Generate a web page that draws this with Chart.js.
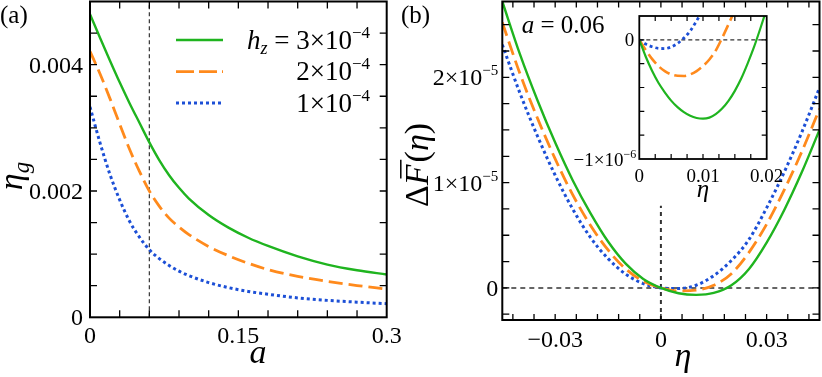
<!DOCTYPE html>
<html>
<head>
<meta charset="utf-8">
<script src="https://cdn.jsdelivr.net/npm/chart.js@4.4.0/dist/chart.umd.min.js"></script>
<style>
  body { margin: 0; background: #fff; }
  #wrap { position: relative; width: 822px; height: 377px; overflow: hidden; background: #fff; }
  canvas { position: absolute; }
</style>
</head>
<body>
<div id="wrap">
  <canvas id="panelA" width="410" height="377" style="left:0px;top:0px"></canvas>
  <canvas id="panelB" width="427" height="377" style="left:395px;top:0px"></canvas>
  <canvas id="inset" width="240" height="210" style="left:560px;top:5px"></canvas>
</div>
<script>
// ---- panel (a): eta_g versus a ----
const aValues = [0, 0.01, 0.02, 0.03, 0.04, 0.05, 0.06, 0.07, 0.08, 0.09, 0.10, 0.12, 0.14, 0.16, 0.18, 0.21, 0.24, 0.27, 0.30];
const etaG_h3 = [0.00480, 0.00443, 0.00407, 0.00372, 0.00339, 0.00308, 0.00277, 0.00249, 0.00225, 0.00205, 0.00188, 0.00162, 0.00142, 0.00126, 0.00113, 0.000965, 0.000835, 0.000745, 0.000677];
const etaG_h2 = [0.00421, 0.00386, 0.00347, 0.00306, 0.00266, 0.00231, 0.00200, 0.00176, 0.00157, 0.00143, 0.00131, 0.00112, 0.000975, 0.000855, 0.000755, 0.000648, 0.000568, 0.000503, 0.000446];
const etaG_h1 = [0.00333, 0.00277, 0.00227, 0.00186, 0.00152, 0.00127, 0.00107, 0.00093, 0.00082, 0.00073, 0.00066, 0.00055, 0.00047, 0.00041, 0.000365, 0.000307, 0.000268, 0.000240, 0.000215];
const aMarker = 0.06;
const aTickVals = [0, 0.15, 0.3];
const aTickLabels = ['0', '0.15', '0.3'];
const etaGTickVals = [0, 0.002, 0.004];
const etaGTickLabels = ['0', '0.002', '0.004'];
const legendMant = ['3', '2', '1'];

// ---- panel (b): Delta F(eta) at a = 0.06, in units of 1e-5 ----
const etaMain = [-0.045, -0.04, -0.035, -0.03, -0.025, -0.02, -0.015, -0.01, -0.005, 0, 0.005, 0.01, 0.015, 0.02, 0.025, 0.03, 0.035, 0.04, 0.045];
const dF_h3 = [2.72, 2.22, 1.78, 1.38, 1.02, 0.71, 0.44, 0.23, 0.085, 0, -0.051, -0.066, -0.048, 0.025, 0.18, 0.43, 0.74, 1.10, 1.50];
const dF_h2 = [2.52, 2.035, 1.61, 1.225, 0.883, 0.595, 0.36, 0.181, 0.063, 0, -0.029, -0.022, 0.025, 0.135, 0.337, 0.605, 0.93, 1.295, 1.70];
const dF_h1 = [2.31, 1.85, 1.44, 1.07, 0.747, 0.48, 0.278, 0.131, 0.041, 0, -0.006, 0.025, 0.117, 0.26, 0.46, 0.76, 1.10, 1.48, 1.90];
const zeroMarkTop = 0.78;
const etaTickVals = [-0.03, 0, 0.03];
const etaTickLabels = ['\u22120.03', '0', '0.03'];
const dFTickVals = [0, 1, 2];
const dFTickMant = ['0', '1', '2'];

// ---- inset: small eta, in units of 1e-6 ----
const etaInset = [0, 0.001, 0.002, 0.003, 0.004, 0.005, 0.006, 0.007, 0.008, 0.009, 0.010, 0.011, 0.012, 0.013, 0.014, 0.015, 0.016, 0.017, 0.018, 0.019, 0.020];
const dFin_h3 = [0, -0.14, -0.26, -0.36, -0.44, -0.51, -0.565, -0.607, -0.638, -0.656, -0.662, -0.653, -0.624, -0.577, -0.512, -0.428, -0.325, -0.20, -0.062, 0.095, 0.26];
const dFin_h2 = [0, -0.085, -0.16, -0.22, -0.262, -0.29, -0.302, -0.303, -0.29, -0.262, -0.22, -0.165, -0.09, 0.015, 0.13, 0.25, 0.38];
const dFin_h1 = [0, -0.035, -0.058, -0.071, -0.073, -0.06, -0.03, 0.015, 0.075, 0.16, 0.25, 0.34];
const insetTickX = [0, 0.01, 0.02];
const insetTickXLabels = ['0', '0.01', '0.02'];

const SERIF = '"Liberation Serif", "Times New Roman", serif';
const GREEN = '#1fb41f', ORANGE = '#ff8a1c', BLUE = '#1c4fd6', REF = '#333';

const pts = (xs, ys) => ys.map((v, i) => ({ x: xs[i], y: v }));

function curve(xs, ys, color, dash, width) {
  return {
    data: pts(xs, ys), borderColor: color, borderWidth: width, borderDash: dash,
    pointRadius: 0, fill: false, cubicInterpolationMode: 'monotone'
  };
}
function refLine(data, width, dash) {
  return { data, borderColor: REF, borderWidth: width, borderDash: dash, pointRadius: 0, fill: false, tension: 0 };
}

// draw a run of text pieces (italic, sub/superscripts) starting from one baseline
function rich(ctx, parts, x, y, align, rot) {
  ctx.save();
  ctx.translate(x, y);
  if (rot) ctx.rotate(rot);
  ctx.textAlign = 'left';
  ctx.textBaseline = 'alphabetic';
  ctx.fillStyle = '#000';
  const fonts = parts.map(p => (p.it ? 'italic ' : '') + p.size + 'px ' + SERIF);
  const widths = parts.map((p, i) => { ctx.font = fonts[i]; return ctx.measureText(p.t).width + (p.gap || 0); });
  const total = widths.reduce((s, w) => s + w, 0);
  let cx = align === 'right' ? -total : align === 'center' ? -total / 2 : 0;
  parts.forEach((p, i) => {
    ctx.font = fonts[i];
    ctx.fillText(p.t, cx, p.dy || 0);
    if (p.bar) {
      ctx.strokeStyle = '#000';
      ctx.lineWidth = 1.5;
      ctx.beginPath();
      ctx.moveTo(cx + p.size * 0.2, -p.size * 0.8);
      ctx.lineTo(cx + widths[i] + p.size * 0.08, -p.size * 0.8);
      ctx.stroke();
    }
    cx += widths[i];
  });
  ctx.restore();
}

function frameTicks(chart, xStep, yStep, xLen, yLen, lw, flw) {
  const { ctx, chartArea: ca, scales: { x, y } } = chart;
  ctx.save();
  ctx.strokeStyle = '#000';
  ctx.lineWidth = lw;
  ctx.setLineDash([]);
  ctx.beginPath();
  for (let k = Math.ceil(x.min / xStep - 1e-6); k <= Math.floor(x.max / xStep + 1e-6); k++) {
    const px = x.getPixelForValue(k * xStep);
    if (px - ca.left < 1.5 || ca.right - px < 1.5) continue;
    ctx.moveTo(px, ca.bottom); ctx.lineTo(px, ca.bottom - xLen);
    ctx.moveTo(px, ca.top); ctx.lineTo(px, ca.top + xLen);
  }
  for (let k = Math.ceil(y.min / yStep - 1e-6); k <= Math.floor(y.max / yStep + 1e-6); k++) {
    const py = y.getPixelForValue(k * yStep);
    if (py - ca.top < 1.5 || ca.bottom - py < 1.5) continue;
    ctx.moveTo(ca.left, py); ctx.lineTo(ca.left + yLen, py);
    ctx.moveTo(ca.right, py); ctx.lineTo(ca.right - yLen, py);
  }
  ctx.stroke();
  ctx.lineWidth = flw;
  ctx.strokeRect(ca.left, ca.top, ca.right - ca.left, ca.bottom - ca.top);
  ctx.restore();
}

function makeChart(id, datasets, xr, yr, padding, plugin) {
  return new Chart(document.getElementById(id), {
    type: 'line',
    data: { datasets },
    options: {
      responsive: false, animation: false, devicePixelRatio: 1, events: [],
      layout: { padding },
      plugins: { legend: { display: false }, tooltip: { enabled: false } },
      scales: {
        x: { type: 'linear', min: xr[0], max: xr[1], display: false },
        y: { type: 'linear', min: yr[0], max: yr[1], display: false }
      }
    },
    plugins: [plugin]
  });
}

// ---------- panel (a) ----------
makeChart('panelA', [
  curve(aValues, etaG_h3, GREEN, [], 2.4),
  curve(aValues, etaG_h2, ORANGE, [14, 6], 2.8),
  curve(aValues, etaG_h1, BLUE, [3, 3], 3),
  refLine([{ x: aMarker, y: 0 }, { x: aMarker, y: 0.005 }], 1.2, [4, 3])
], [0, 0.3], [0, 0.005], { left: 90, top: 1.5, right: 23.3, bottom: 59.7 }, {
  id: 'decorA',
  afterDatasetsDraw(chart) {
    const { ctx, chartArea: ca, scales: { x, y } } = chart;
    frameTicks(chart, 0.03, 0.0005, 7, 7, 1.3, 2);
    etaGTickVals.forEach((v, i) => rich(ctx, [{ t: etaGTickLabels[i], size: 24 }], ca.left - 7, y.getPixelForValue(v) + 8, 'right'));
    aTickVals.forEach((v, i) => rich(ctx, [{ t: aTickLabels[i], size: 24 }], x.getPixelForValue(v), ca.bottom + 26, 'center'));
    rich(ctx, [{ t: 'a', it: 1, size: 34 }], 258, 363, 'center');
    rich(ctx, [{ t: '\u03b7', it: 1, size: 34 }, { t: 'g', it: 1, size: 23, dy: 7 }], 22, 176, 'center', -Math.PI / 2);
    rich(ctx, [{ t: '(a)', size: 25 }], 0, 23, 'left');
    // legend
    const rows = [[GREEN, [], 2.4, 40], [ORANGE, [18, 5], 2.8, 71.7], [BLUE, [3, 3], 3, 103]];
    rows.forEach((r, i) => {
      ctx.save();
      ctx.strokeStyle = r[0]; ctx.lineWidth = r[2]; ctx.setLineDash(r[1]);
      ctx.beginPath(); ctx.moveTo(176, r[3]); ctx.lineTo(223, r[3]); ctx.stroke();
      ctx.restore();
      const parts = i === 0
        ? [{ t: 'h', it: 1, size: 27 }, { t: 'z', it: 1, size: 18, dy: 5 }, { t: ' = ' + legendMant[i] + '\u00d710', size: 27 }, { t: '\u22124', size: 17, dy: -11 }]
        : [{ t: legendMant[i] + '\u00d710', size: 27 }, { t: '\u22124', size: 17, dy: -11 }];
      rich(ctx, parts, 370, r[3] + 8.5, 'right');
    });
  }
});

// ---------- panel (b) ----------
makeChart('panelB', [
  curve(etaMain, dF_h3, GREEN, [], 2.4),
  curve(etaMain, dF_h2, ORANGE, [14, 6], 2.8),
  curve(etaMain, dF_h1, BLUE, [3, 3], 3),
  refLine([{ x: -0.045, y: 0 }, { x: 0.045, y: 0 }], 1.5, [5, 4]),
  refLine([{ x: 0, y: -0.305 }, { x: 0, y: zeroMarkTop }], 2, [4, 4])
], [-0.045, 0.045], [-0.305, 2.72], { left: 107.3, top: 1.5, right: 2.5, bottom: 57 }, {
  id: 'decorB',
  afterDatasetsDraw(chart) {
    const { ctx, chartArea: ca, scales: { x, y } } = chart;
    frameTicks(chart, 0.006, 0.25, 6, 7, 1.3, 2);
    dFTickVals.forEach((v, i) => {
      const parts = v === 0 ? [{ t: '0', size: 24 }] : [{ t: dFTickMant[i] + '\u00d710', size: 24 }, { t: '\u22125', size: 15, dy: -10 }];
      rich(ctx, parts, ca.left - 4, y.getPixelForValue(v) + 8, 'right');
    });
    etaTickVals.forEach((v, i) => rich(ctx, [{ t: etaTickLabels[i], size: 24 }], x.getPixelForValue(v), ca.bottom + 26.5, 'center'));
    rich(ctx, [{ t: '\u03b7', it: 1, size: 34 }], 288, 366, 'center');
    rich(ctx, [{ t: '\u0394', size: 34 }, { t: 'F', it: 1, size: 34, bar: true, gap: 2 }, { t: '(', size: 34 }, { t: '\u03b7', it: 1, size: 34 }, { t: ')', size: 34 }], 33, 165, 'center', -Math.PI / 2);
    rich(ctx, [{ t: '(b)', size: 25 }], 6, 23, 'left');
    rich(ctx, [{ t: 'a', it: 1, size: 25 }, { t: ' = 0.06', size: 25 }], 126.7, 33, 'left');
  }
});

// ---------- inset ----------
makeChart('inset', [
  curve(etaInset, dFin_h3, GREEN, [], 2.2),
  curve(etaInset, dFin_h2, ORANGE, [12, 5], 2.6),
  curve(etaInset, dFin_h1, BLUE, [3, 3], 2.8),
  refLine([{ x: 0, y: 0 }, { x: 0.02, y: 0 }], 1.2, [4, 3])
], [0, 0.02], [-1, 0.2], { left: 79.3, top: 11, right: 33.3, bottom: 56 }, {
  id: 'decorInset',
  beforeDatasetsDraw(chart) {
    const { ctx, chartArea: ca } = chart;
    ctx.save(); ctx.fillStyle = '#fff';
    ctx.fillRect(ca.left, ca.top, ca.right - ca.left, ca.bottom - ca.top);
    ctx.restore();
  },
  afterDatasetsDraw(chart) {
    const { ctx, chartArea: ca, scales: { x, y } } = chart;
    frameTicks(chart, 0.0025, 0.2, 5, 5, 1.2, 1.8);
    rich(ctx, [{ t: '0', size: 19 }], ca.left - 5, y.getPixelForValue(0) + 6.5, 'right');
    rich(ctx, [{ t: '\u22121\u00d710', size: 19 }, { t: '\u22126', size: 12, dy: -8 }], ca.left - 3, y.getPixelForValue(-1) + 6.5, 'right');
    insetTickX.forEach((v, i) => rich(ctx, [{ t: insetTickXLabels[i], size: 19 }], x.getPixelForValue(v), ca.bottom + 23, 'center'));
    rich(ctx, [{ t: '\u03b7', it: 1, size: 25 }], 143, 192, 'center');
  }
});
</script>
</body>
</html>
